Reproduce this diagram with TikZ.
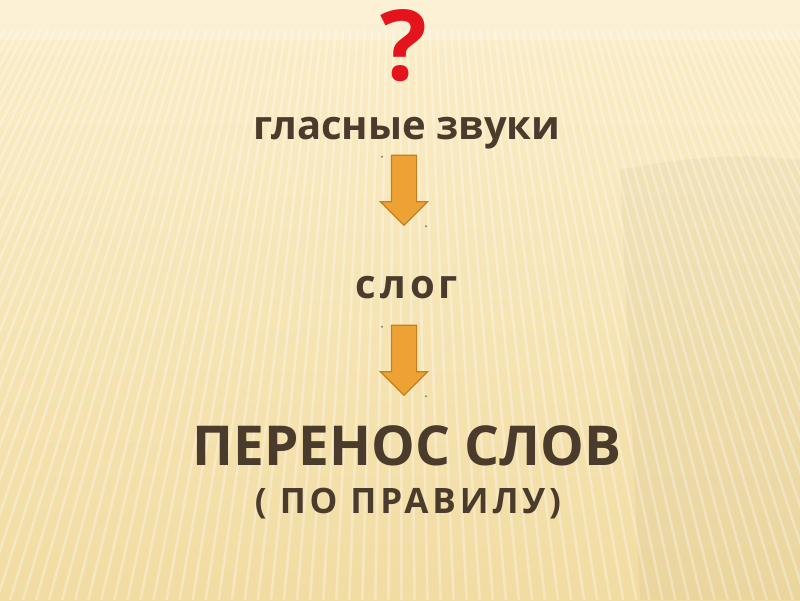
\documentclass[tikz,border=0pt]{standalone}
\usepackage{fontspec}
\setmainfont{Open Sans}
\usetikzlibrary{shapes.arrows}

\definecolor{fondhaut}{HTML}{FBEDC8}
\definecolor{fondbas}{HTML}{F1DCA2}
\definecolor{brun}{HTML}{4A3B2C}
\definecolor{orange}{HTML}{EDA233}
\definecolor{orangefonce}{HTML}{C47F1E}
\definecolor{rouge}{HTML}{E5141C}

\tikzset{
  mot/.style={text=brun, inner sep=0pt, anchor=base},
  fleche/.style={single arrow, shape border rotate=270, draw=orangefonce,
    fill=orange, line width=1.2pt, inner sep=12pt, minimum height=70pt,
    single arrow head extend=11pt, single arrow head indent=0pt},
  point/.style={fill=gray, inner sep=0.8pt, circle}
}

\begin{document}
\begin{tikzpicture}[x=1pt,y=-1pt]
        \useasboundingbox (0,0) rectangle (800,600);
        % Фон
        \shade[top color=fondhaut, bottom color=fondbas] (0,0) rectangle (800,600);
        \begin{scope}
            \clip (0,0) rectangle (800,600);
            \fill[white, opacity=0.25] (0,0) rectangle (800,40);
            \fill[brun, opacity=0.04] (620,170) .. controls (680,158) and (740,152) .. (800,160)
                -- (800,600) -- (640,600) -- cycle;
            % Полосы
            \foreach \x in {-400,-391,...,1200} {
                \draw[white, opacity=0.3, line width=2.6pt] (400+\x*0.8-320,30) -- (400+\x*1.45-580,600);
            }
        \end{scope}

        % Текст
        \node[mot, text=rouge, font=\fontsize{98}{112}\selectfont\bfseries] (vopros) at (404,80) {?};
        \node[mot, font=\fontsize{40}{48}\selectfont\bfseries] (glas) at (407,139) {гласные звуки};
        \node[mot, font=\fontsize{40}{48}\selectfont\bfseries\addfontfeature{LetterSpace=10}] (slog) at (407,298) {слог};
        \node[mot, font=\fontsize{55}{66}\selectfont\bfseries] (perenos) at (407,465) {ПЕРЕНОС СЛОВ};
        \node[mot, font=\fontsize{35}{42}\selectfont\bfseries\addfontfeature{LetterSpace=11}] (pravilo) at (408,513) {( ПО ПРАВИЛУ)};

        % Стрелки
        \node[fleche] (str1) at (404,184) {};
        \node[fleche] (str2) at (404,354) {};

        % Точки
        \foreach \s in {str1,str2} {
            \node[point] at ([xshift=-22pt,yshift=-2pt]\s.north) {};
            \node[point] at ([xshift=22pt]\s.south) {};
        }
\end{tikzpicture}
\end{document}
